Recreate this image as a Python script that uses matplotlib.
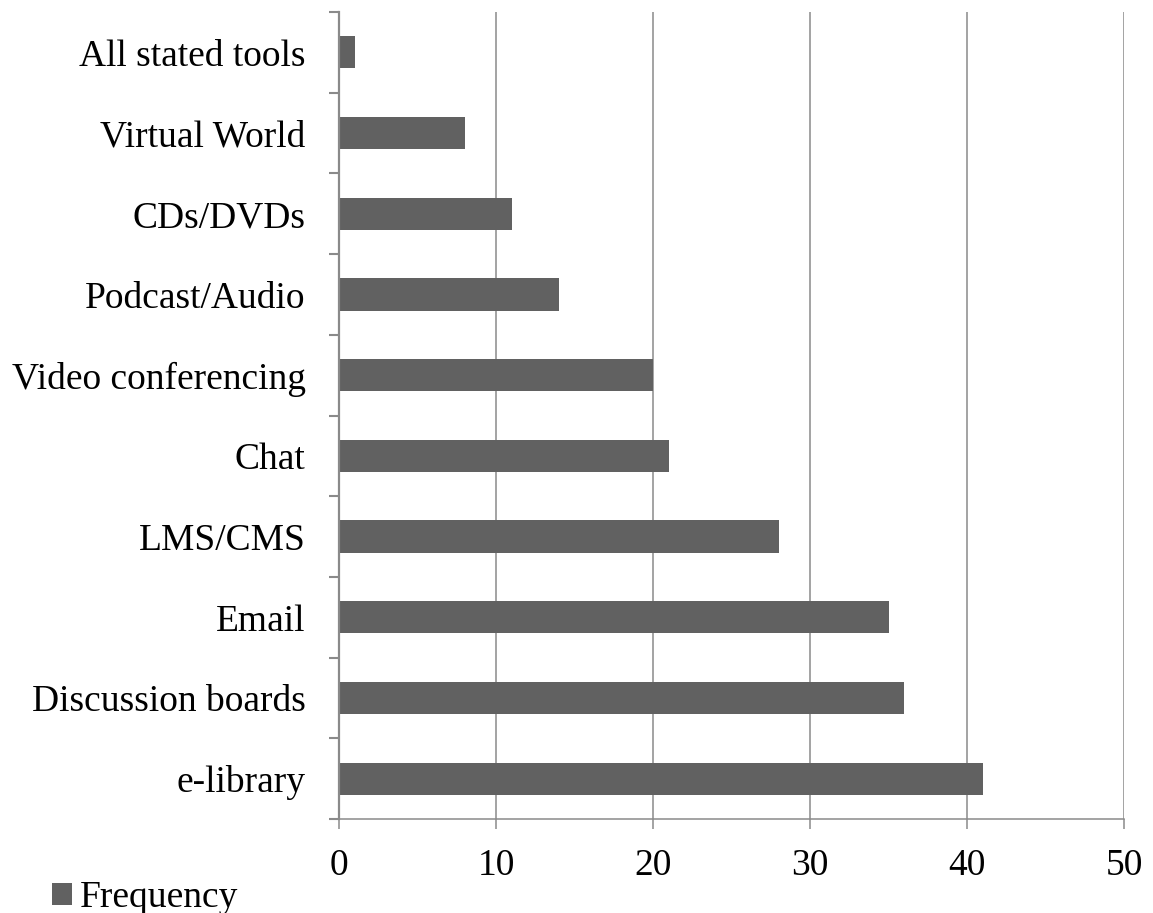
import matplotlib
matplotlib.use("Agg")
import matplotlib.pyplot as plt
import numpy as np

categories = ["e-library", "Discussion boards", "Email", "LMS/CMS", "Chat",
              "Video conferencing", "Podcast/Audio", "CDs/DVDs", "Virtual World",
              "All stated tools"]
frequency = [41, 36, 35, 28, 21, 20, 14, 11, 8, 1]
x_ticks = [0, 10, 20, 30, 40, 50]
series_name = "Frequency"

plt.rcParams['font.family'] = ['Liberation Serif', 'DejaVu Serif']
FS = 27
BAR = "#616161"
AX = "#8a8a8a"

W, H = 1153, 913
fig = plt.figure(figsize=(W / 100, H / 100), dpi=100)
ax = fig.add_axes([339 / W, 1 - 819 / H, (1124 - 339) / W, (819 - 12) / H])

y = np.arange(len(categories))
ax.barh(y, frequency, height=0.4, color=BAR, zorder=3, label=series_name)

ax.set_xlim(0, 50)
ax.set_ylim(-0.5, len(categories) - 0.5)
ax.set_xticks(x_ticks)
ax.set_xticklabels([str(t) for t in x_ticks], fontsize=FS)
ax.tick_params(axis='x', direction='out', length=7.5, width=1.1, color=AX, pad=14)

ax.set_yticks(np.arange(-0.5, len(categories), 1.0))
ax.set_yticklabels([])
ax.set_yticks(y, minor=True)
ax.set_yticklabels(categories, minor=True, fontsize=FS)
ax.tick_params(axis='y', which='major', direction='out', length=7.5, width=1.5, color=AX)
ax.tick_params(axis='y', which='minor', length=0, pad=24)

ax.grid(axis='x', color=AX, linewidth=1.1, zorder=0)
ax.set_axisbelow(True)
for s in ['top', 'right']:
    ax.spines[s].set_visible(False)
ax.spines['left'].set_color(AX)
ax.spines['left'].set_linewidth(1.6)
ax.spines['left'].set_zorder(4)
ax.spines['bottom'].set_color(AX)
ax.spines['bottom'].set_linewidth(1.1)

fig.legend(loc='center left', bbox_to_anchor=(52 / W, 1 - 898 / H),
           frameon=False, fontsize=FS, handlelength=0.52, handleheight=0.52,
           handletextpad=0.22, borderpad=0, borderaxespad=0)

fig.savefig("out.png", dpi=100, facecolor="white")
